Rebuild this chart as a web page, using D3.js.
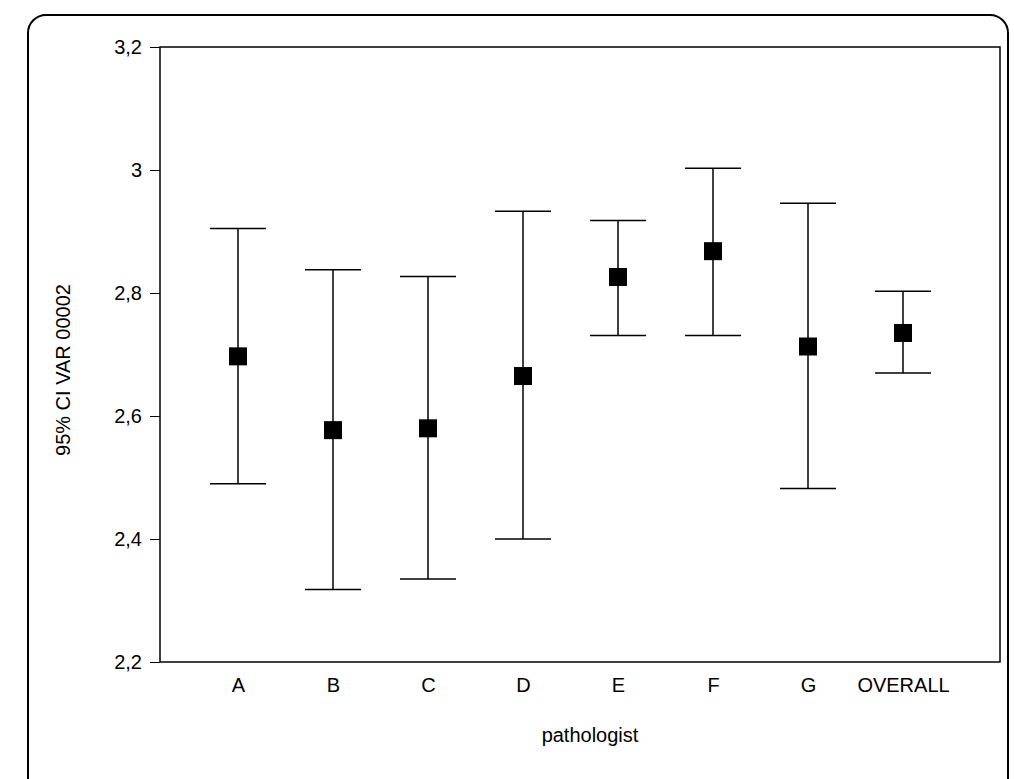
<!DOCTYPE html>
<html><head><meta charset="utf-8">
<script src="https://cdn.jsdelivr.net/npm/d3@7"></script>
<style>body{margin:0;background:#fff}</style>
</head><body>
<svg id="c" width="1014" height="779"></svg>
<script>
const categories = ["A","B","C","D","E","F","G","OVERALL"];
const means = [2.697,2.577,2.580,2.665,2.826,2.868,2.713,2.735];
const lows  = [2.490,2.318,2.335,2.400,2.731,2.731,2.482,2.670];
const highs = [2.905,2.838,2.827,2.933,2.918,3.003,2.946,2.803];
const yTicks = [2.2,2.4,2.6,2.8,3,3.2];

const svg = d3.select("#c");
const font = "Liberation Sans, Arial, sans-serif";

// card border
svg.append("rect").attr("x",28).attr("y",15).attr("width",980).attr("height",790)
  .attr("rx",18).attr("fill","none").attr("stroke","#000").attr("stroke-width",2);

const mLeft = 160, mRight = 1000, mTop = 47, mBottom = 662;
const x = d3.scalePoint().domain(categories).range([238, 903]);
const y = d3.scaleLinear().domain([2.2,3.2]).range([mBottom, mTop]);

svg.append("rect").attr("x",mLeft).attr("y",mTop).attr("width",mRight-mLeft).attr("height",mBottom-mTop)
  .attr("fill","none").attr("stroke","#000").attr("stroke-width",1.5);

const fmt = d => String(d).replace(".", ",");
const ya = svg.append("g").attr("transform",`translate(${mLeft},0)`)
  .call(d3.axisLeft(y).tickValues(yTicks).tickFormat(fmt).tickSize(10).tickPadding(8));
ya.select(".domain").remove();
ya.selectAll("text").attr("font-family",font).attr("font-size",20).attr("fill","#000");

const xa = svg.append("g").attr("transform",`translate(0,${mBottom})`)
  .call(d3.axisBottom(x).tickSize(0).tickPadding(16));
xa.select(".domain").remove();
xa.selectAll("text").attr("font-family",font).attr("font-size",20).attr("fill","#000");

svg.append("text").attr("x",590).attr("y",742).attr("text-anchor","middle")
  .attr("font-family",font).attr("font-size",20).text("pathologist");
svg.append("text").attr("transform","translate(70,370) rotate(-90)").attr("text-anchor","middle")
  .attr("font-family",font).attr("font-size",20).text("95% CI VAR 00002");

const g = svg.append("g").selectAll("g").data(categories).join("g");
const cap = 28;
g.append("line").attr("x1",d=>x(d)).attr("x2",d=>x(d))
  .attr("y1",(d,i)=>y(lows[i])).attr("y2",(d,i)=>y(highs[i])).attr("stroke","#000").attr("stroke-width",1.5);
g.append("line").attr("x1",d=>x(d)-cap).attr("x2",d=>x(d)+cap)
  .attr("y1",(d,i)=>y(lows[i])).attr("y2",(d,i)=>y(lows[i])).attr("stroke","#000").attr("stroke-width",1.5);
g.append("line").attr("x1",d=>x(d)-cap).attr("x2",d=>x(d)+cap)
  .attr("y1",(d,i)=>y(highs[i])).attr("y2",(d,i)=>y(highs[i])).attr("stroke","#000").attr("stroke-width",1.5);
g.append("rect").attr("x",d=>x(d)-9).attr("y",(d,i)=>y(means[i])-9)
  .attr("width",18).attr("height",18).attr("fill","#000");
</script>
</body></html>
